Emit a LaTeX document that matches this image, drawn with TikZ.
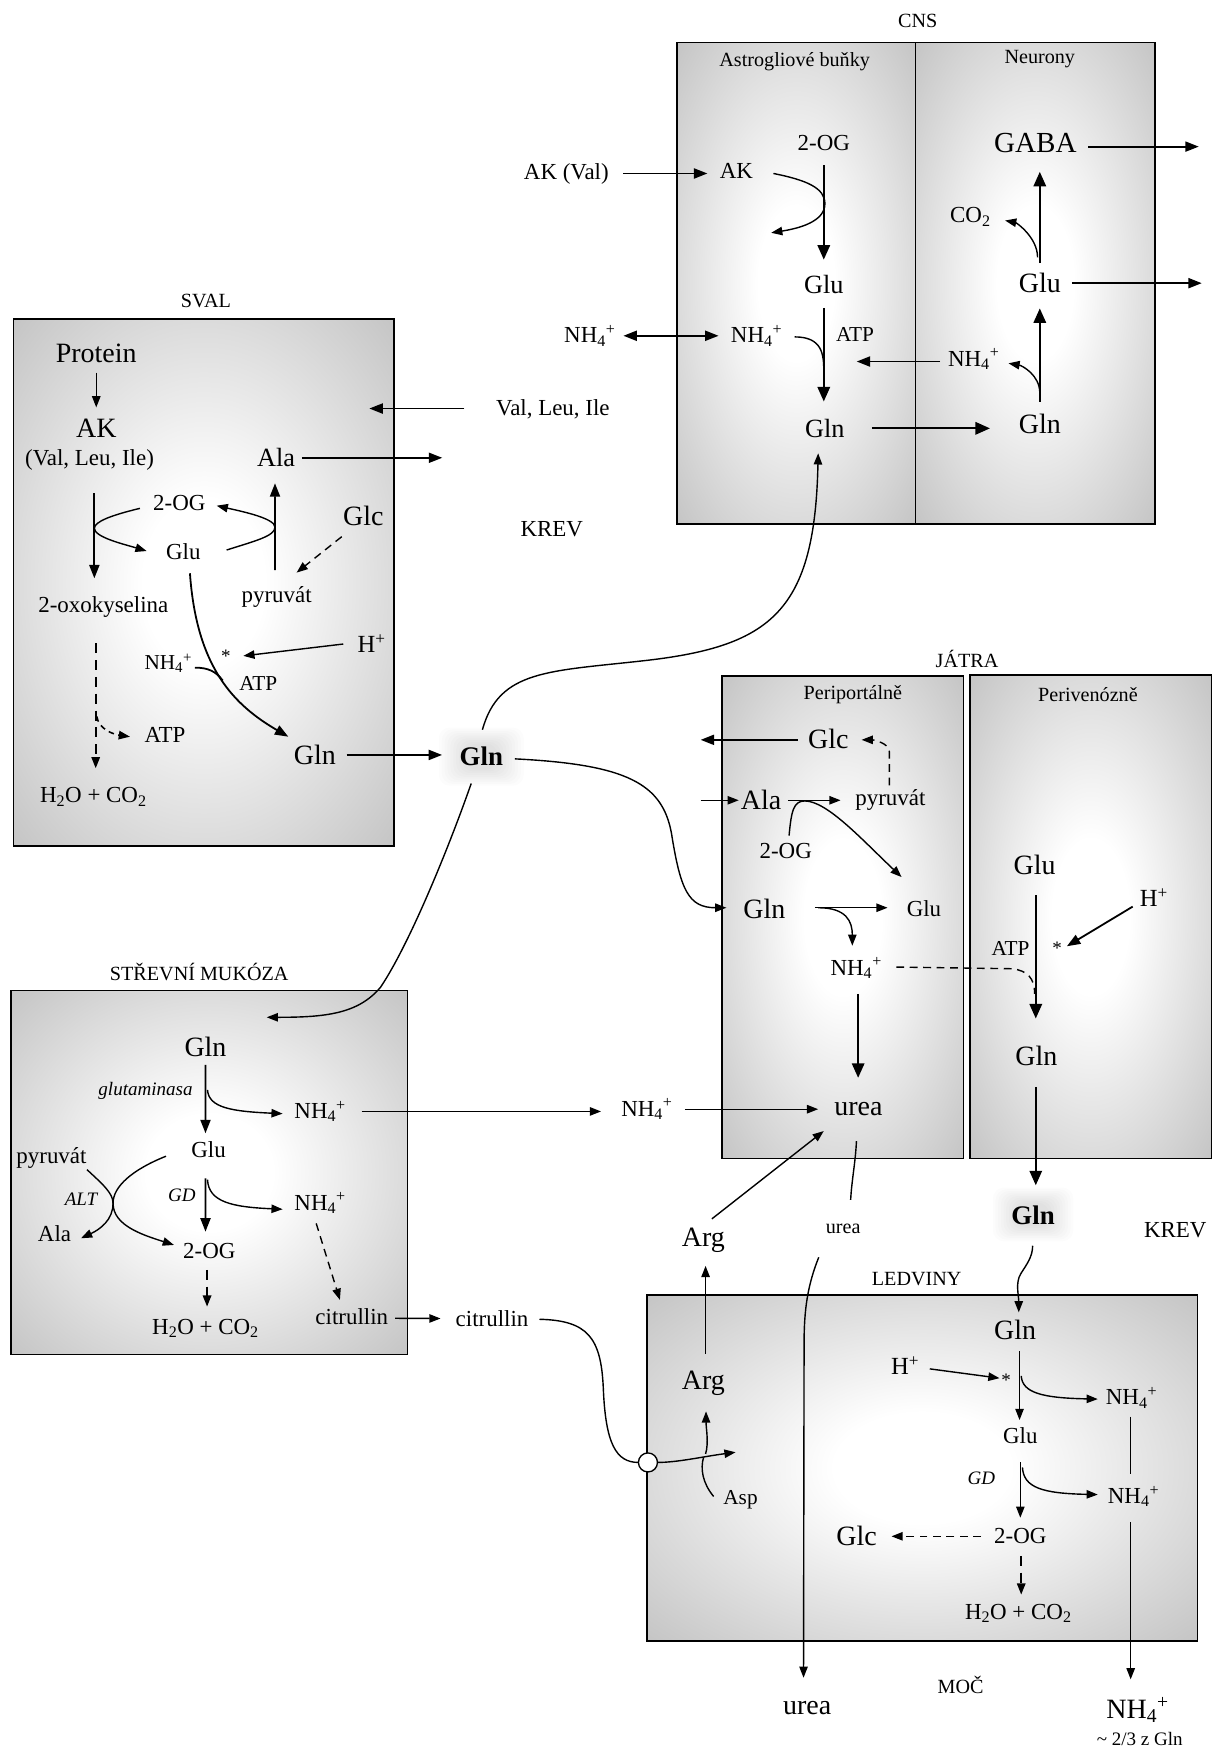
\documentclass[tikz,border=0pt]{standalone}
\usepackage{fontspec}
\setmainfont{Liberation Serif}
\usetikzlibrary{arrows.meta,calc}
\definecolor{boxgray}{RGB}{189,189,189}
\pgfdeclareradialshading{boxshade}{\pgfpoint{0bp}{0bp}}{color(0bp)=(white); color(8bp)=(white); color(39bp)=(boxgray); color(50bp)=(boxgray)}
\newcommand\nhf{NH\textsubscript{4}\textsuperscript{+}}
\tikzset{
 every node/.style={inner sep=0pt, outer sep=0pt},
 fA/.style={font=\fontsize{25}{28}\selectfont},
 fAs/.style={font=\fontsize{23.5}{27}\selectfont},
 fB/.style={font=\fontsize{20.5}{24}\selectfont},
 fC/.style={font=\fontsize{19}{22}\selectfont},
 fD/.style={font=\fontsize{17}{20}\selectfont},
 fL/.style={font=\fontsize{18}{21}\selectfont},
 fI/.style={font=\fontsize{17}{20}\selectfont\itshape},
 fG/.style={font=\fontsize{24}{28}\selectfont\bfseries},
 arrB/.style={line width=2pt, -{Triangle[length=13pt,width=11pt]}},
 arrM/.style={line width=1.6pt, -{Triangle[length=12pt,width=9pt]}},
 arrS/.style={line width=1.25pt, -{Triangle[length=10pt,width=7.5pt]}},
 lineS/.style={line width=1.25pt},
 dsh/.style={dash pattern=on 7pt off 5pt},
 dshL/.style={dash pattern=on 9pt off 6pt},
 boxline/.style={draw=black, line width=1.3pt},
 glowlayer/.style={fill=black, opacity=0.013, rounded corners=10pt},
}
\begin{document}
\begin{tikzpicture}[x=1pt,y=-1pt]
\fill[white] (0,0) rectangle (1090,1568);
\useasboundingbox (0,0) rectangle (1090,1568);

% ---------------- boxes ----------------
\shade[shading=boxshade] (605,38) rectangle (818,468);
\shade[shading=boxshade] (818,38) rectangle (1032,468);
\draw[boxline] (605,38) rectangle (1032,468);
\draw[line width=1.3pt] (818,38) -- (818,468);
\shade[shading=boxshade] (12,285) rectangle (352,756);
\draw[boxline] (12,285) rectangle (352,756);
\shade[shading=boxshade] (645,604) rectangle (861,1035);
\draw[boxline] (645,604) rectangle (861,1035);
\shade[shading=boxshade] (866.5,603) rectangle (1082.5,1035);
\draw[boxline] (866.5,603) rectangle (1082.5,1035);
\shade[shading=boxshade] (10,885) rectangle (364,1210);
\draw[boxline] (10,885) rectangle (364,1210);
\shade[shading=boxshade] (578,1157) rectangle (1070,1466);
\draw[boxline] (578,1157) rectangle (1070,1466);
% soft glows behind the blood Gln labels
\foreach \k in {0,...,9}{
  \path[glowlayer] ({392+2.6*\k},{650+1.6*\k}) rectangle ({468-2.6*\k},{702-1.6*\k});
  \path[glowlayer] ({887+2.4*\k},{1061+1.5*\k}) rectangle ({959-2.4*\k},{1109-1.5*\k});
}

% ---------------- CNS ----------------
\node[fL] (cnsL) at (820,19) {CNS};
\node[fL] (astroL) at (710,55) {Astrogliové buňky};
\node[fL] (neurL) at (929,53) {Neurony};
\node[fB] (aOG) at (736,127.5) {2-OG};
\node[fB] (aAK) at (658,153) {AK};
\node[fB] (akval) at (506,155) {AK (Val)};
\node[fAs] (aGlu) at (736,254) {Glu};
\node[fB] (nhL) at (527,300) {\nhf};
\node[fB] (aNH) at (676,300) {\nhf};
\node[fC] (aATP) at (764,298.5) {ATP};
\node[fAs] (aGln) at (737,382.7) {Gln};
\node[fB] (nNH) at (870,321) {\nhf};
\node[fA] (nGln) at (929,379) {Gln};
\node[fA] (nGlu) at (929,253) {Glu};
\node[fB] (nCO) at (867,194) {CO\textsubscript{2}};
\node[font=\fontsize{26}{30}\selectfont] (gaba) at (925,128) {GABA};

\draw[arrM] ($(akval)+(51,0)$) -- ($(aAK)+(-26,2)$);
\draw[arrS] ($(aAK)+(33,2)$) .. controls +(30,6) and +(0,-14) .. ($(aAK)+(79,29)$) .. controls +(0,16) and +(25,-4) .. ($(aAK)+(31,55)$);
\draw[arrB] ($(aOG)+(0,20)$) -- ($(aGlu)+(0,-22)$);
\draw[line width=1.6pt, {Triangle[length=12pt,width=9pt]}-{Triangle[length=12pt,width=9pt]}] ($(nhL)+(30,0)$) -- ($(aNH)+(-34,0)$);
\draw[lineS] ($(aNH)+(34,1)$) .. controls +(25,0) and +(0,-15) .. ($(aGlu)+(0,78)$);
\draw[arrB] ($(aGlu)+(0,21)$) -- ($(aGln)+(-1,-24)$);
\draw[arrM] ($(nNH)+(-30,2)$) -- ($(aATP)+(1.4,24.5)$);
\draw[arrB] ($(aGln)+(42,0)$) -- ($(nGln)+(-44.5,3.7)$);
\draw[arrB] ($(nGln)+(0,-20)$) -- ($(nGlu)+(0,22.5)$);
\draw[arrS] ($(nGln)+(0,-28)$) .. controls +(0,-16) and +(12,2) .. ($(nNH)+(31,3.6)$);
\draw[arrB] ($(nGlu)+(0,-18)$) -- ($(gaba)+(4,25.5)$);
\draw[arrS] ($(nGlu)+(-2,-23)$) .. controls +(0,-18) and +(10,2) .. ($(nCO)+(31,3)$);
\draw[arrM] ($(gaba)+(47.5,3)$) -- ++(98.5,0);
\draw[arrM] ($(nGlu)+(28.7,0)$) -- ++(116,0);

% ---------------- SVAL ----------------
\node[fL] (svalL) at (184,269) {SVAL};
\node[fA] (protein) at (86,316) {Protein};
\node[fA] (sAK) at (86,383) {AK};
\node[fB] (sVLI) at (80,411) {(Val, Leu, Ile)};
\node[fAs] (sAla) at (246.6,409) {Ala};
\node[fB] (sOG) at (160.2,449.7) {2-OG};
\node[fB] (sGlu) at (163.8,493) {Glu};
\node[fA] (sGlc) at (324.6,461) {Glc};
\node[fB] (sPyr) at (247.2,533) {pyruvát};
\node[fB] (sOxo) at (92.3,542) {2-oxokyselina};
\node[fB] (sATP2) at (147.4,656.7) {ATP};
\node[fB] (sH2O) at (83.4,711.8) {H\textsubscript{2}O + CO\textsubscript{2}};
\node[fC] (sNH) at (150.4,592.6) {\nhf};
\node[fD] (sStar) at (201.9,586) {*};
\node[font=\fontsize{22}{26}\selectfont] (sH) at (332,574.8) {H\textsuperscript{+}};
\node[fC] (sATP) at (230.8,611) {ATP};
\node[fA] (sGln) at (281.4,674.5) {Gln};
\node[fG] (bGln) at (430,676) {Gln};
\node[fB] (vli) at (494,366) {Val, Leu, Ile};
\node[fB] (krev1) at (493,473) {KREV};

\draw[arrS] ($(protein)+(0,17)$) -- ($(sAK)+(0,-19)$);
\draw[arrM] ($(vli)+(-79,-1)$) -- ++(-85,0);
\draw[arrM] ($(sAla)+(23,0)$) -- ++(125.5,0);
\draw[arrM] ($(sVLI)+(4.3,29.8)$) -- ($(sOxo)+(-8,-25.3)$);
\draw[arrS] ($(sOG)+(-35.2,4.5)$) .. controls +(-25,6) and +(0,-6) .. ($(sVLI)+(4.3,61)$) .. controls +(0,8) and +(-20,-6) .. ($(sGlu)+(-32.8,-0.7)$);
\draw[arrM] ($(sPyr)+(-1.5,-23.7)$) -- ($(sAla)+(-0.9,22.8)$);
\draw[arrS] ($(sGlu)+(38.7,-1.6)$) .. controls +(25,-8) and +(0,8) .. ($(sAla)+(-0.9,62)$) .. controls +(0,-8) and +(22,5) .. ($(sOG)+(33.4,2.1)$);
\draw[arrS, dsh] ($(sGlc)+(-19.3,18.5)$) -- ($(sPyr)+(17.8,-21.4)$);
\draw[arrS, dshL, line width=1.6pt] ($(sOxo)+(-6.8,32.8)$) -- ($(sH2O)+(2.1,-25.4)$);
\draw[arrS, dash pattern=on 5pt off 4pt, line width=1.4pt] ($(sOxo)+(-5.9,98)$) .. controls +(2,12) and +(-14,-2) .. ($(sATP2)+(-31.3,1.5)$);
\draw[arrS] ($(sH)+(-25.3,0.6)$) -- ($(sStar)+(15.5,0)$);
\draw[arrM] ($(sGlu)+(5.9,19.2)$) .. controls +(6,85) and +(-48,-28) .. ($(sGln)+(-23.8,-16.3)$);
\draw[line width=1.6pt] ($(sNH)+(23.8,3.9)$) .. controls +(12,0) and +(-6,-8) .. ($(sATP)+(-31.8,-3)$);
\draw[arrM] ($(sGln)+(28.3,0)$) -- ($(bGln)+(-35,-1.5)$);

% ---------------- blood Gln curves ----------------
\draw[arrS] ($(bGln)+(1,-24)$) .. controls +(15,-54) and +(-88,10) .. (578,590) .. controls +(112,-13) and +(-3,140) .. ($(aGln)+(-6,22.3)$);

% ---------------- JATRA ----------------
\node[fL] (jatraL) at (864,589) {JÁTRA};
\node[fL] (periL) at (762,621) {Periportálně};
\node[fL] (periVL) at (972,621) {Perivenózně};
\node[fA] (jGlc) at (740,660) {Glc};
\node[fA] (jAla) at (680,715) {Ala};
\node[fB] (jPyr) at (795.5,715) {pyruvát};
\node[fB] (jOG) at (702,760) {2-OG};
\node[fA] (jGln) at (683,812) {Gln};
\node[fB] (jGlu) at (825.5,812) {Glu};
\node[fB] (jNH) at (765,865) {\nhf};
\node[fA] (jUrea) at (767,991) {urea};
\node[fB] (midNH) at (578,991) {\nhf};
\node[fA] (pvGlu) at (924.4,773) {Glu};
\node[fC] (pvATP) at (902.8,847) {ATP};
\node[fD] (pvStar) at (944.5,847) {*};
\node[font=\fontsize{22}{26}\selectfont] (pvH) at (1031,802) {H\textsuperscript{+}};
\node[fA] (pvGln) at (926,943) {Gln};
\node[fG] (bGln2) at (923,1086) {Gln};
\node[fB] (krev2) at (1050,1099) {KREV};

\draw[arrS] ($(bGln)+(30,2)$) .. controls +(100,5) and +(-8,-45) .. (600,745) .. controls +(8,50) and +(-34,0) .. ($(jGln)+(-34,-1)$);
\draw[arrM] ($(jGlc)+(-27.4,1)$) -- ++(-86.6,0);
\draw[arrS, dsh] ($(jPyr)+(-0.9,-13.3)$) -- ++(0,-30) .. controls +(0,-8) and +(10,0) .. ($(jGlc)+(29.8,1)$);
\draw[arrS] ($(jAla)+(-54,0)$) -- ($(jAla)+(-20,0)$);
\draw[arrS] ($(jAla)+(24,0)$) -- ($(jPyr)+(-44.5,0)$);
\draw[arrS] ($(jOG)+(3,-13.5)$) .. controls +(2,-22) and +(-10,0) .. (719,715.6) .. controls +(20,0) and +(-35,-33) .. ($(jGlu)+(-20,-28.4)$);
\draw[arrS] ($(jGln)+(45,-1)$) -- ($(jGlu)+(-32.5,-1)$);
\draw[arrS] ($(jGln)+(48,-1)$) .. controls +(25,0) and +(0,-22) .. ($(jNH)+(-3.5,-20)$);
\draw[lineS, dsh] ($(jNH)+(35.8,-1)$) -- (904,865.5) .. controls +(14,1.5) and +(0,-14) .. ($(pvGln)+(-1.6,-55)$);
\draw[arrB] ($(jNH)+(1.7,23)$) -- ($(jUrea)+(-0.3,-28)$);
\draw[arrS] ($(midNH)+(34,0)$) -- ($(jUrea)+(-36,0)$);
\draw[arrB] ($(pvGlu)+(1,27)$) -- ($(pvGln)+(-0.6,-33)$);
\draw[arrM] ($(pvH)+(-19,8)$) -- ($(pvStar)+(8.7,-1.6)$);
\draw[arrB] ($(pvGln)+(-0.6,28)$) -- ($(bGln2)+(2.4,-27)$);

% ---------------- STREVNI MUKOZA ----------------
\node[fL] (strL) at (178,868) {STŘEVNÍ MUKÓZA};
\node[fA] (iGln) at (183.6,935) {Gln};
\node[fI] (glut) at (130,975) {glutaminasa};
\node[fB] (iNH1) at (286,993) {\nhf};
\node[fB] (iGlu) at (186.4,1027) {Glu};
\node[fI] (iGD) at (162.4,1067.6) {GD};
\node[fB] (iNH2) at (286,1075) {\nhf};
\node[fB] (iPyr) at (46,1035) {pyruvát};
\node[fI] (iALT) at (72.4,1071.5) {ALT};
\node[fB] (iAla) at (48.7,1102) {Ala};
\node[fB] (iOG) at (187,1118) {2-OG};
\node[fB] (iH2O) at (183.6,1187) {H\textsubscript{2}O + CO\textsubscript{2}};
\node[fB] (iCit) at (314.3,1176) {citrullin};
\node[fB] (oCit) at (439.6,1178) {citrullin};

\draw[arrS] ($(bGln)+(-9,24)$) .. controls +(-21,60) and +(25,-37) .. (340,882) .. controls +(-20,24) and +(52,0) .. ($(iGln)+(54.7,-26.1)$);
\draw[arrM] ($(iGln)+(0,16.5)$) -- ($(iGlu)+(-2.8,-14.5)$);
\draw[arrS] ($(iGln)+(1.8,38.8)$) .. controls +(1,16) and +(-45,-2) .. ($(iNH1)+(-33.5,2)$);
\draw[arrM] ($(iGlu)+(-2.8,25.7)$) -- ($(iOG)+(-3.4,-17.6)$);
\draw[arrS] ($(iGlu)+(-1,27)$) .. controls +(1,20) and +(-45,-2) .. ($(iNH2)+(-33.5,5.4)$);
\draw[arrS] ($(iPyr)+(31.7,10)$) .. controls +(14,13) and +(0,-9) .. ($(iALT)+(28.6,3.5)$) .. controls +(0,20) and +(-28,-9) .. ($(iOG)+(-31.6,-5.7)$);
\draw[arrS] ($(iGlu)+(-38.1,6)$) .. controls +(-30,12) and +(0,-15) .. ($(iALT)+(28.6,3.5)$) .. controls +(0,15) and +(17,-8) .. ($(iAla)+(23.7,4.3)$);
\draw[arrS, dshL, line width=1.6pt] ($(iOG)+(-2,16.6)$) -- ($(iH2O)+(1.4,-19.6)$);
\draw[arrS, dsh] ($(iNH2)+(-3.5,18)$) -- ($(iCit)+(-10.6,-14.6)$);
\draw[arrS] ($(iCit)+(38.7,1.8)$) -- ($(oCit)+(-46,0)$);
\draw[arrS] ($(iNH1)+(37,0)$) -- ($(midNH)+(-41,2)$);

% ---------------- LEDVINY ----------------
\node[fL] (ledL) at (819,1143) {LEDVINY};
\node[fA] (Arg1) at (628.5,1108) {Arg};
\node[fA] (Arg2) at (628.5,1236) {Arg};
\node[fC] (asp) at (661.6,1340) {Asp};
\node[fL] (ureaS) at (753.3,1098) {urea};
\node[fA] (lGln) at (907,1188.5) {Gln};
\node[font=\fontsize{22}{26}\selectfont] (lH) at (808.7,1220) {H\textsuperscript{+}};
\node[fD] (lStar) at (899,1233.5) {*};
\node[fB] (lNH1) at (1011,1249) {\nhf};
\node[fB] (lGlu) at (911.6,1282.3) {Glu};
\node[fI] (lGD) at (876.7,1321) {GD};
\node[fB] (lNH2) at (1012.8,1337) {\nhf};
\node[fB] (lOG) at (911.6,1372) {2-OG};
\node[fA] (lGlc) at (765.3,1372) {Glc};
\node[fB] (lH2O) at (909.8,1441.4) {H\textsubscript{2}O + CO\textsubscript{2}};
\node[fA] (ureaB) at (721.2,1526) {urea};
\node[fL] (moc) at (858.3,1505) {MOČ};
\node[fA] (nhBig) at (1016.4,1528) {\nhf};
\node[fD] (frac) at (1018.3,1553.4) {\textasciitilde{} 2/3 z Gln};

\draw[arrS] ($(Arg1)+(7.5,-19)$) -- ($(jUrea)+(-31,19.5)$);
\draw[lineS] ($(jUrea)+(-1.8,28.5)$) .. controls +(-1,20) and +(1,-18) .. ($(ureaS)+(6.7,-26)$);
\draw[arrS] ($(bGln2)+(-0.4,27)$) .. controls +(0,10) and +(5,-8) .. (912,1138) .. controls +(-5,8) and +(0,-15) .. ($(lGln)+(3.2,-16)$);
\draw[arrS] ($(Arg2)+(1.9,-26.4)$) -- ($(Arg1)+(1.9,23)$);
\draw[arrS] ($(ureaS)+(-21.8,25.3)$) .. controls +(-10,25) and +(0,-30) .. (718.4,1200) -- ($(ureaB)+(-3.3,-27)$);
\draw[arrS] ($(Arg2)+(1.9,63)$) .. controls +(3,-10) and +(0,15) .. ($(Arg2)+(2.3,25)$);
\draw[lineS] ($(asp)+(-24,-3)$) .. controls +(-10,-12) and +(-3,10) .. ($(asp)+(-33,-38)$);
\node[circle, draw, fill=white, line width=1.2pt, minimum size=17pt] (circ) at (578.9,1306.6) {};
\draw[lineS] ($(oCit)+(42.4,0.7)$) .. controls +(43,1) and +(-2,-45) .. (539,1240) .. controls +(2,50) and +(-20,0) .. (circ.west);
\draw[arrS] (circ.east) .. controls +(18,0) and +(-30,4) .. ($(asp)+(-4.4,-42.5)$);
\draw[arrS] ($(lH)+(22,3)$) -- ($(lStar)+(-6,-2.2)$);
\draw[arrS] ($(lGlu)+(-0.7,-75)$) -- ($(lGlu)+(-0.7,-13.6)$);
\draw[arrS] ($(lGlu)+(0.8,-53)$) .. controls +(1,15) and +(-50,-1) .. ($(lNH1)+(-30.2,1)$);
\draw[lineS] ($(lNH1)+(-0.8,16.7)$) -- ($(lNH2)+(-2.6,-19.8)$);
\draw[arrS] ($(lGlu)+(0,24.3)$) -- ($(lOG)+(0,-16)$);
\draw[arrS] ($(lGlu)+(1.9,28.7)$) .. controls +(1,18) and +(-50,-1) .. ($(lNH2)+(-32,-1.7)$);
\draw[arrS, dsh] ($(lOG)+(-35,0.6)$) -- ($(lGlc)+(31.2,0.6)$);
\draw[arrS, dshL, line width=1.6pt] ($(lOG)+(0.8,18)$) -- ($(lH2O)+(2.6,-16.7)$);
\draw[arrS] ($(lNH2)+(-2.6,22.6)$) -- ($(nhBig)+(-6.2,-27.6)$);
\end{tikzpicture}
\end{document}
